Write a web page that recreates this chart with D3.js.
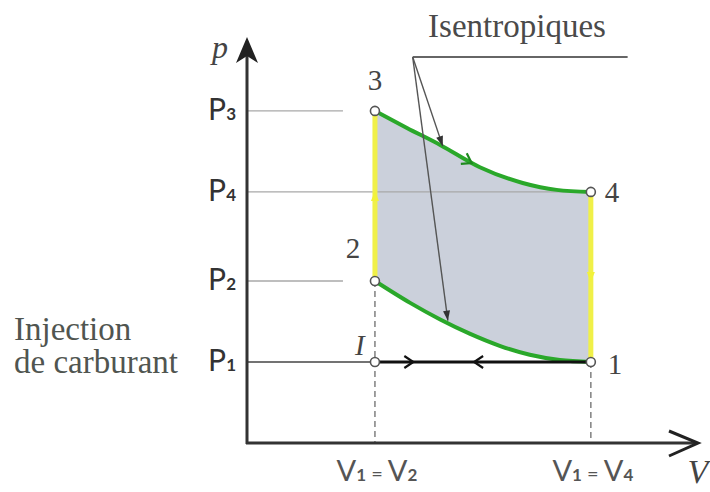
<!DOCTYPE html>
<html>
<head>
<meta charset="utf-8">
<script src="https://cdn.jsdelivr.net/npm/d3@7"></script>
<style>
  body { margin: 0; background: #fff; }
</style>
</head>
<body>
<div id="plot"></div>
<script>
  // volumes (V2 = V(I), V1 = V4) and pressures, in arbitrary units
  var volumes = [2, 5.375];
  var pTickNames = ["P", "P", "P", "P"];
  var pTickSubs = ["3", "4", "2", "1"];
  var pTickValues = [8.2, 6.2, 4.0, 2.0];
  var pTickEnds = [1.5, 5.375, 1.5, 2];
  var vTickLabels = [["V", "1", "V", "2"], ["V", "1", "V", "4"]];

  var stateIds = ["3", "4", "2", "1", "I"];
  var stateV = [2, 5.375, 2, 5.375, 2];
  var stateP = [8.2, 6.2, 4.0, 2.0, 2.0];

  var isentrope34 = [[2, 8.2], [2.5, 7.78], [3.02, 7.36], [3.64, 6.81], [4.31, 6.42], [4.84, 6.25], [5.375, 6.2]];
  var isentrope21 = [[2, 4.0], [2.55, 3.46], [3.02, 3.05], [3.48, 2.7], [3.95, 2.4], [4.42, 2.18], [4.89, 2.05], [5.375, 2.0]];

  var width = 710, height = 492;
  var serif = "'Liberation Serif', 'DejaVu Serif', serif",
      sans = "Lato, 'Noto Sans', sans-serif";

  var svg = d3.select("#plot")
      .append("svg")
      .attr("width", width)
      .attr("height", height)
      .style("background", "#fff");

  var x = d3.scaleLinear().domain([0, 7.05]).range([247, 698]),
      y = d3.scaleLinear().domain([0, 10]).range([443, 38]);

  var line = d3.line()
    .x(function(d) { return x(d[0]); })
    .y(function(d) { return y(d[1]); })
    .curve(d3.curveMonotoneX);

  var V2 = volumes[0], V4 = volumes[1];
  var p1 = pTickValues[3], p2 = pTickValues[2], p4 = pTickValues[1], p3 = pTickValues[0];

  // shaded cycle area
  var upper = line(isentrope34);
  var lower = line(isentrope21.slice().reverse());
  svg.append("path")
    .attr("d", upper + lower.replace(/^M/, "L") + "Z")
    .attr("fill", "#cbd0db");

  // pressure reference lines
  pTickValues.forEach(function(p, i) {
    svg.append("line")
      .attr("x1", x(0)).attr("x2", x(pTickEnds[i]))
      .attr("y1", y(p)).attr("y2", y(p))
      .attr("stroke", i == 3 ? "#444" : "#a8a8a8")
      .attr("stroke-width", i == 3 ? 1.6 : 1.4);
  });

  // dashed verticals
  [[V2, p2], [V4, p1]].forEach(function(d) {
    svg.append("line")
      .attr("x1", x(d[0])).attr("x2", x(d[0]))
      .attr("y1", y(d[1])).attr("y2", y(0))
      .attr("stroke", "#777")
      .attr("stroke-width", 1.4)
      .attr("stroke-dasharray", "6,4");
  });

  // yellow isochores
  svg.append("line")
    .attr("x1", x(V2)).attr("x2", x(V2)).attr("y1", y(p2)).attr("y2", y(p3))
    .attr("stroke", "#f0f048").attr("stroke-width", 5);
  svg.append("line")
    .attr("x1", x(V4)).attr("x2", x(V4)).attr("y1", y(p4)).attr("y2", y(p1))
    .attr("stroke", "#f0f048").attr("stroke-width", 5);
  // small yellow arrows
  function yellowArrow(v, p, dir) {
    var cx = x(v), cy = y(p);
    svg.append("path")
      .attr("d", "M" + (cx - 4) + "," + (cy + 5 * dir) + "L" + cx + "," + (cy - 5 * dir) + "L" + (cx + 4) + "," + (cy + 5 * dir) + "Z")
      .attr("fill", "#f2f23a");
  }
  yellowArrow(V2, (p2 + p3) / 2, 1);
  yellowArrow(V4, (p4 + p1) / 2, -1);

  // isentropes
  var up = svg.append("path")
    .attr("d", line(isentrope34))
    .attr("fill", "none").attr("stroke", "#2aa82a").attr("stroke-width", 4);
  svg.append("path")
    .attr("d", line(isentrope21))
    .attr("fill", "none").attr("stroke", "#2aa82a").attr("stroke-width", 4);

  // direction arrow on 3-4
  (function() {
    var n = up.node(), L = n.getTotalLength();
    var a = n.getPointAtLength(L * 0.47), b = n.getPointAtLength(L * 0.47 - 10);
    var ang = Math.atan2(a.y - b.y, a.x - b.x) * 180 / Math.PI;
    svg.append("path")
      .attr("d", "M-9,-6L0,0L-9,6")
      .attr("transform", "translate(" + a.x + "," + a.y + ") rotate(" + ang + ")")
      .attr("fill", "none").attr("stroke", "#1f8a1f").attr("stroke-width", 2.2);
  })();

  // injection line I -> 1
  svg.append("line")
    .attr("x1", x(V2)).attr("x2", x(V4)).attr("y1", y(p1)).attr("y2", y(p1))
    .attr("stroke", "#111").attr("stroke-width", 3);
  function chevron(v, p, dir) {
    var cx = x(v), cy = y(p);
    svg.append("path")
      .attr("d", "M" + (cx - 9 * dir) + "," + (cy - 6) + "L" + cx + "," + cy + "L" + (cx - 9 * dir) + "," + (cy + 6))
      .attr("fill", "none").attr("stroke", "#111").attr("stroke-width", 2.2);
  }
  chevron(2.6, p1, 1);
  chevron(3.55, p1, -1);

  // axes
  svg.append("line")
    .attr("x1", x(0)).attr("x2", x(0)).attr("y1", y(0) + 1).attr("y2", y(10) + 8)
    .attr("stroke", "#333").attr("stroke-width", 3);
  svg.append("line")
    .attr("x1", x(0) - 1).attr("x2", x(7.05) - 2).attr("y1", y(0)).attr("y2", y(0))
    .attr("stroke", "#333").attr("stroke-width", 3);
  var tip = [x(0), y(10) - 1];
  svg.append("path")
    .attr("d", "M" + tip[0] + "," + tip[1] + "L" + (tip[0] - 11) + "," + (tip[1] + 26) + "L" + tip[0] + "," + (tip[1] + 19) + "L" + (tip[0] + 11) + "," + (tip[1] + 26) + "Z")
    .attr("fill", "#222");
  var xt = [x(7.05), y(0)];
  svg.append("path")
    .attr("d", "M" + (xt[0] - 29) + "," + (xt[1] - 12) + "L" + xt[0] + "," + xt[1] + "L" + (xt[0] - 29) + "," + (xt[1] + 13))
    .attr("fill", "none").attr("stroke", "#222").attr("stroke-width", 3);

  // "Isentropiques" leader
  var corner = [2.59, 9.53];
  svg.append("line")
    .attr("x1", x(corner[0])).attr("x2", x(5.95)).attr("y1", y(corner[1])).attr("y2", y(corner[1]))
    .attr("stroke", "#666").attr("stroke-width", 2);
  function leader(v, p) {
    var x0 = x(corner[0]), y0 = y(corner[1]), x1 = x(v), y1 = y(p);
    var ang = Math.atan2(y1 - y0, x1 - x0) * 180 / Math.PI;
    svg.append("line")
      .attr("x1", x0).attr("y1", y0).attr("x2", x1).attr("y2", y1)
      .attr("stroke", "#555").attr("stroke-width", 1.4);
    svg.append("path")
      .attr("d", "M0,0L-10,-3.5L-10,3.5Z")
      .attr("transform", "translate(" + x1 + "," + y1 + ") rotate(" + ang + ")")
      .attr("fill", "#333");
  }
  leader(3.06, 7.33);
  leader(3.14, 3.02);

  svg.append("text")
    .attr("x", 517).attr("y", 37)
    .attr("text-anchor", "middle")
    .attr("font-family", serif).attr("font-size", 33)
    .attr("fill", "#4a4a4a")
    .text("Isentropiques");

  // state points
  stateIds.forEach(function(id, i) {
    svg.append("circle")
      .attr("cx", x(stateV[i])).attr("cy", y(stateP[i]))
      .attr("r", 4.5)
      .attr("fill", "#fff").attr("stroke", "#555").attr("stroke-width", 1.6);
  });

  // state labels
  var stateLabelPos = {
    "3": [0, -21, "middle"], "2": [-22, -23, "middle"],
    "4": [14, 10, "start"], "1": [17, 12, "start"], "I": [-15, -7, "middle"]
  };
  stateIds.forEach(function(id, i) {
    var o = stateLabelPos[id];
    svg.append("text")
      .attr("x", x(stateV[i]) + o[0]).attr("y", y(stateP[i]) + o[1])
      .attr("text-anchor", o[2])
      .attr("font-family", serif).attr("font-size", 29)
      .attr("font-style", id == "I" ? "italic" : "normal")
      .attr("fill", "#444")
      .text(id);
  });

  // pressure tick labels
  pTickValues.forEach(function(p, i) {
    var t = svg.append("text")
      .attr("x", x(0) - 11).attr("y", y(p) + 9)
      .attr("text-anchor", "end")
      .attr("font-family", sans).attr("font-size", 30)
      .attr("fill", "#333");
    t.append("tspan").text(pTickNames[i]);
    t.append("tspan").attr("font-size", 17).attr("font-weight", "bold").text(pTickSubs[i]);
  });

  // volume tick labels
  volumes.forEach(function(v, i) {
    var lab = vTickLabels[i];
    var t = svg.append("text")
      .attr("x", x(v) + 2).attr("y", 481)
      .attr("text-anchor", "middle")
      .attr("font-family", sans).attr("font-size", 29)
      .attr("fill", "#555");
    t.append("tspan").text(lab[0]);
    t.append("tspan").attr("font-size", 17).attr("font-weight", "bold").text(lab[1]);
    t.append("tspan").attr("font-size", 20).text(" = ");
    t.append("tspan").text(lab[2]);
    t.append("tspan").attr("font-size", 17).attr("font-weight", "bold").text(lab[3]);
  });

  // axis titles
  svg.append("text")
    .attr("x", 220).attr("y", 58)
    .attr("text-anchor", "middle")
    .attr("font-family", serif).attr("font-style", "italic").attr("font-size", 32)
    .attr("fill", "#444")
    .text("p");
  svg.append("text")
    .attr("x", 698).attr("y", 483)
    .attr("text-anchor", "middle")
    .attr("font-family", serif).attr("font-style", "italic").attr("font-size", 34)
    .attr("fill", "#444")
    .text("V");

  // injection note
  svg.append("text")
    .attr("x", 14).attr("y", 340)
    .attr("font-family", serif).attr("font-size", 33)
    .attr("fill", "#505550")
    .text("Injection");
  svg.append("text")
    .attr("x", 14).attr("y", 373)
    .attr("font-family", serif).attr("font-size", 33)
    .attr("fill", "#505550")
    .text("de carburant");
</script>
</body>
</html>
